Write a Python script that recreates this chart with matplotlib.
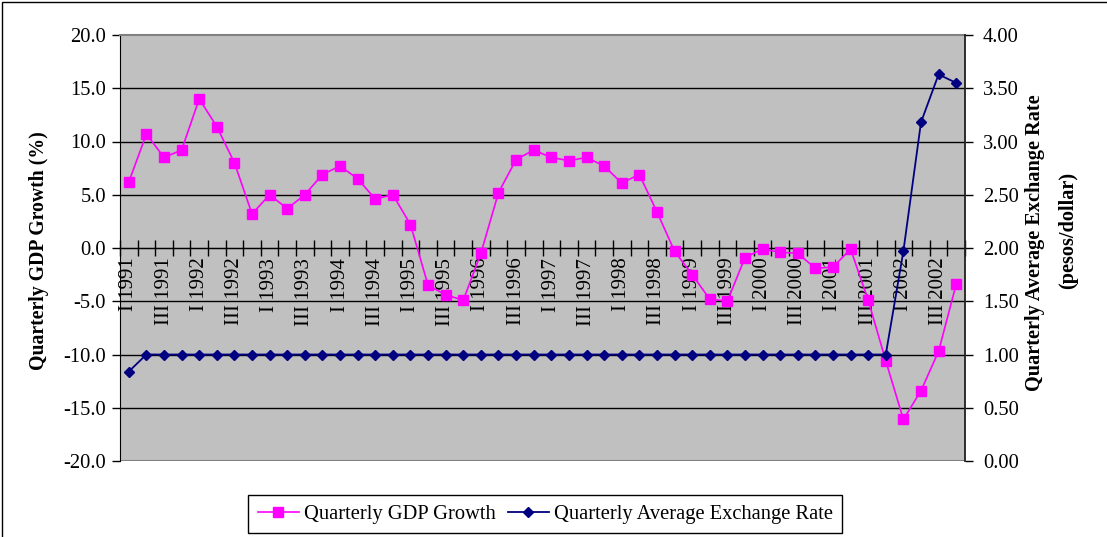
import numpy as np
import matplotlib
matplotlib.use("Agg")
import matplotlib.pyplot as plt
from matplotlib.patches import Rectangle

plt.rcParams['font.family'] = ['Liberation Serif', 'DejaVu Serif']
plt.rcParams['axes.unicode_minus'] = False

# ---- data ----
years = list(range(1991, 2003))
quarters = ["I", "II", "III", "IV"]

gdp_growth = [6.2, 10.7, 8.5, 9.2, 14.0, 11.4, 8.0, 3.2,
              5.0, 3.7, 5.0, 6.9, 7.7, 6.5, 4.6, 5.0,
              2.2, -3.5, -4.4, -4.9, -0.5, 5.2, 8.3, 9.2,
              8.5, 8.2, 8.5, 7.7, 6.1, 6.9, 3.4, -0.3,
              -2.5, -4.8, -5.0, -0.9, -0.1, -0.4, -0.5, -1.9,
              -1.8, -0.1, -4.9, -10.6, -16.1, -13.4, -9.7, -3.4]

exchange_rate = [0.84, 1.0, 1.0, 1.0, 1.0, 1.0, 1.0, 1.0,
                 1.0, 1.0, 1.0, 1.0, 1.0, 1.0, 1.0, 1.0,
                 1.0, 1.0, 1.0, 1.0, 1.0, 1.0, 1.0, 1.0,
                 1.0, 1.0, 1.0, 1.0, 1.0, 1.0, 1.0, 1.0,
                 1.0, 1.0, 1.0, 1.0, 1.0, 1.0, 1.0, 1.0,
                 1.0, 1.0, 1.0, 1.0, 1.97, 3.18, 3.63, 3.55]

labels = [f"{q} {y}" for y in years for q in quarters]
shown_labels = labels[::2]

left_ticks = [-20, -15, -10, -5, 0, 5, 10, 15, 20]
right_ticks = [0, 0.5, 1.0, 1.5, 2.0, 2.5, 3.0, 3.5, 4.0]

# ---- figure ----
W, H = 1107, 537
fig = plt.figure(figsize=(W / 100, H / 100), dpi=100)
fig.patch.set_facecolor('white')

L, R, T, B = 120, 965, 35, 461
ax = fig.add_axes([L / W, 1 - B / H, (R - L) / W, (B - T) / H])
ax.set_facecolor('#C0C0C0')

x = np.arange(1, len(gdp_growth) + 1)
ax.set_xlim(0.5, len(x) + 0.5)
ax.set_ylim(-20, 20)

# y grid
ax.set_yticks(left_ticks)
ax.set_yticklabels([f"{v:.1f}" for v in left_ticks], fontsize=14.8)
ax.yaxis.grid(True, color='black', lw=1)
ax.set_axisbelow(True)
gl = ax.get_ygridlines()
gl[0].set_visible(False)
gl[-1].set_visible(False)
ax.tick_params(axis='y', direction='out', length=6, width=1, pad=4, colors='black')

# x axis at y=0
ax.spines['bottom'].set_position(('data', 0))
ax.spines['bottom'].set_color('black')
ax.spines['top'].set_color('#808080')
ax.spines['top'].set_linewidth(1.5)
ax.spines['right'].set_visible(False)
ax.spines['left'].set_color('black')
ax.axhline(-20, color='#808080', lw=1.5, zorder=2.5)

ax.set_xticks(np.arange(0.5, len(x) + 1, 1))
ax.set_xticklabels([])
ax.tick_params(axis='x', which='major', direction='inout', length=12, width=1, color='black')
ax.set_xticks(x[::2], minor=True)
ax.set_xticklabels(shown_labels, minor=True, rotation=90, fontsize=15)
ax.tick_params(axis='x', which='minor', length=0, pad=7)

l1, = ax.plot(x, gdp_growth, color='#FF00FF', lw=1.2, marker='s', ms=6.8,
              mec='#FF00FF', mfc='#FF00FF', zorder=4, clip_on=False)

ax2 = ax.twinx()
ax2.set_ylim(0, 4)
ax2.set_yticks(right_ticks)
ax2.set_yticklabels([f"{v:.2f}" for v in right_ticks], fontsize=14.8)
ax2.tick_params(axis='y', direction='out', length=6, width=1, pad=7, colors='black')
for s in ['top', 'bottom', 'left']:
    ax2.spines[s].set_visible(False)
ax2.spines['right'].set_color('#202020')
ax2.spines['right'].set_linewidth(1.3)

l2, = ax2.plot(x, exchange_rate, color='#000080', lw=1.3, marker='D', ms=5.2,
               mec='#000080', mfc='#000080', zorder=4, clip_on=False)

# axis titles
fig.text(39 / W, 1 - 251 / H, "Quarterly GDP Growth (%)", rotation=90,
         ha='center', va='center', fontsize=14.2, fontweight='bold')
fig.text(1035 / W, 1 - 243 / H, "Quarterly Average Exchange Rate", rotation=90,
         ha='center', va='center', fontsize=14.6, fontweight='bold')
fig.text(1068 / W, 1 - 230 / H, "(pesos/dollar)", rotation=90,
         ha='center', va='center', fontsize=14.6, fontweight='bold')

# legend
leg = fig.legend([l1, l2], ["Quarterly GDP Growth", "Quarterly Average Exchange Rate"],
                 loc='center', bbox_to_anchor=((241.7 + 849) / 2 / W, 1 - 514 / H),
                 ncol=2, fontsize=14.8, frameon=True, fancybox=False, framealpha=1,
                 edgecolor='black', handlelength=2.0, handletextpad=0.25,
                 columnspacing=0.6, borderpad=0.45, borderaxespad=0)
leg.get_frame().set_linewidth(1)

# outer border (left and top visible)
fig.patches.append(Rectangle((1.5 / W, -0.05), 1.2, 1.05 - 1.5 / H, transform=fig.transFigure,
                             fill=False, edgecolor='black', lw=1))

fig.savefig("out.png", dpi=100)
